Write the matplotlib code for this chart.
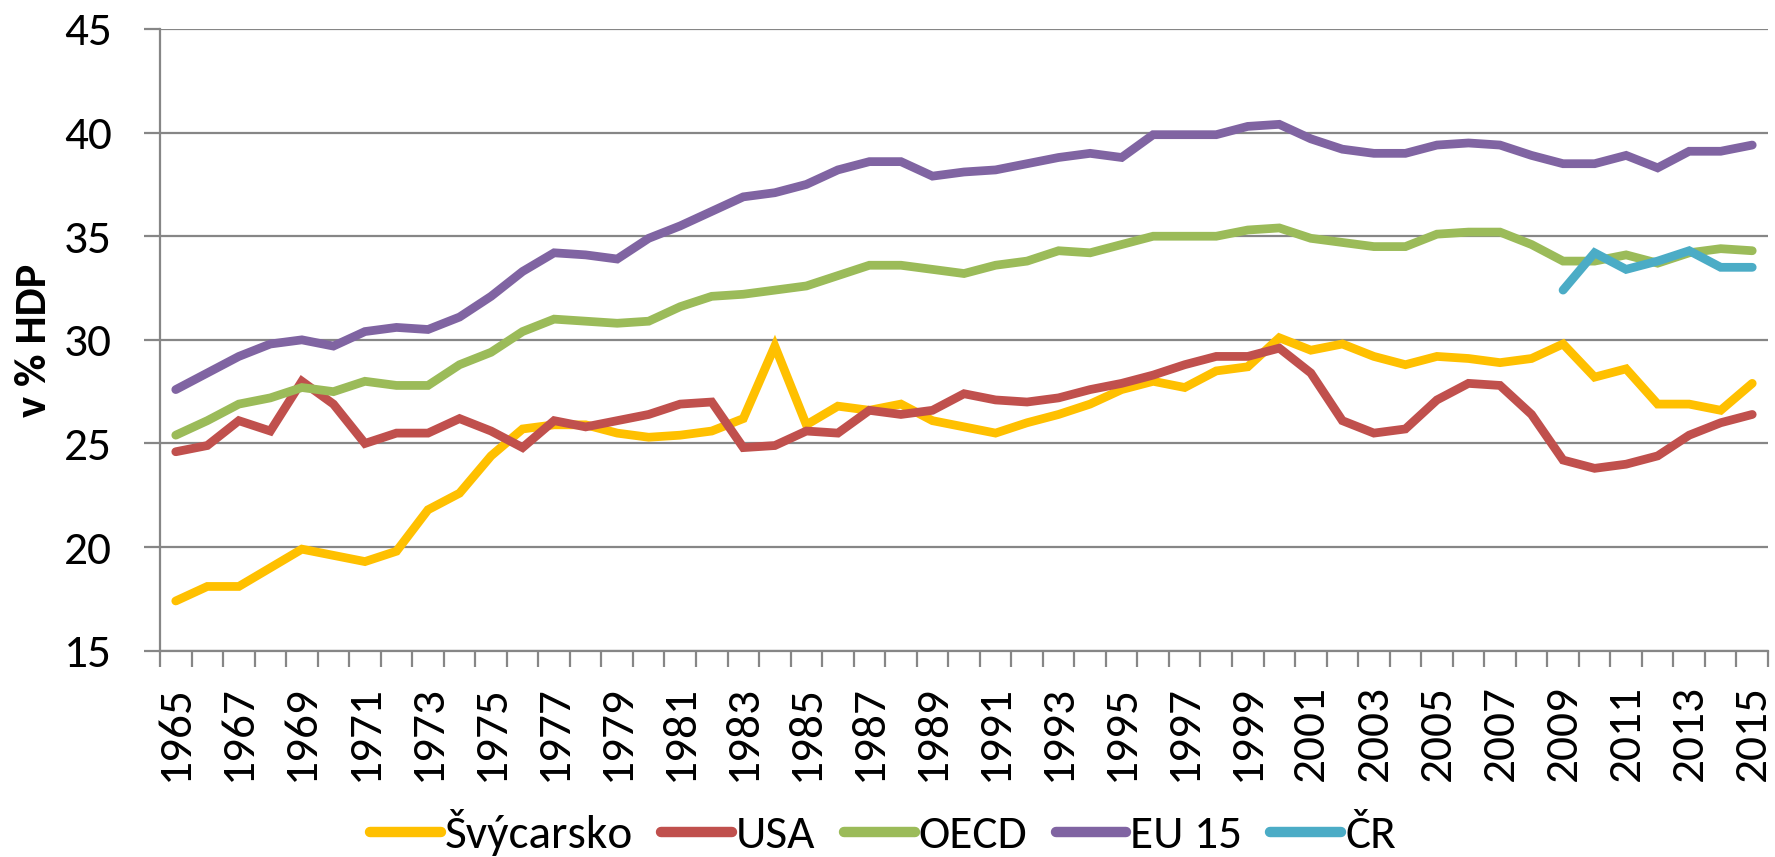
import numpy as np
import matplotlib
matplotlib.use("Agg")
import matplotlib.pyplot as plt
from matplotlib import font_manager

roky = list(range(1965, 2016))

svycarsko = [17.4, 18.1, 18.1, 19.0, 19.9, 19.6, 19.3, 19.8, 21.8, 22.6,
             24.4, 25.7, 25.9, 25.9, 25.5, 25.3, 25.4, 25.6, 26.2, 29.7,
             25.9, 26.8, 26.6, 26.9, 26.1, 25.8, 25.5, 26.0, 26.4, 26.9,
             27.6, 28.0, 27.7, 28.5, 28.7, 30.1, 29.5, 29.8, 29.2, 28.8,
             29.2, 29.1, 28.9, 29.1, 29.8, 28.2, 28.6, 26.9, 26.9, 26.6,
             27.9]
usa = [24.6, 24.9, 26.1, 25.6, 28.0, 26.9, 25.0, 25.5, 25.5, 26.2,
       25.6, 24.8, 26.1, 25.8, 26.1, 26.4, 26.9, 27.0, 24.8, 24.9,
       25.6, 25.5, 26.6, 26.4, 26.6, 27.4, 27.1, 27.0, 27.2, 27.6,
       27.9, 28.3, 28.8, 29.2, 29.2, 29.6, 28.4, 26.1, 25.5, 25.7,
       27.1, 27.9, 27.8, 26.4, 24.2, 23.8, 24.0, 24.4, 25.4, 26.0,
       26.4]
oecd = [25.4, 26.1, 26.9, 27.2, 27.7, 27.5, 28.0, 27.8, 27.8, 28.8,
        29.4, 30.4, 31.0, 30.9, 30.8, 30.9, 31.6, 32.1, 32.2, 32.4,
        32.6, 33.1, 33.6, 33.6, 33.4, 33.2, 33.6, 33.8, 34.3, 34.2,
        34.6, 35.0, 35.0, 35.0, 35.3, 35.4, 34.9, 34.7, 34.5, 34.5,
        35.1, 35.2, 35.2, 34.6, 33.8, 33.8, 34.1, 33.7, 34.2, 34.4,
        34.3]
eu15 = [27.6, 28.4, 29.2, 29.8, 30.0, 29.7, 30.4, 30.6, 30.5, 31.1,
        32.1, 33.3, 34.2, 34.1, 33.9, 34.9, 35.5, 36.2, 36.9, 37.1,
        37.5, 38.2, 38.6, 38.6, 37.9, 38.1, 38.2, 38.5, 38.8, 39.0,
        38.8, 39.9, 39.9, 39.9, 40.3, 40.4, 39.7, 39.2, 39.0, 39.0,
        39.4, 39.5, 39.4, 38.9, 38.5, 38.5, 38.9, 38.3, 39.1, 39.1,
        39.4]
cr_roky = list(range(2009, 2016))
cr = [32.4, 34.2, 33.4, 33.8, 34.3, 33.5, 33.5]

serie = [
    ("Švýcarsko", roky, svycarsko, "#FFC000"),
    ("USA", roky, usa, "#C0504D"),
    ("OECD", roky, oecd, "#9BBB59"),
    ("EU 15", roky, eu15, "#8064A2"),
    ("ČR", cr_roky, cr, "#4BACC6"),
]

# Calibri look-alike if available, otherwise Lato
dostupne = {f.name for f in font_manager.fontManager.ttflist}
if "Carlito" in dostupne:
    pismo, velikost = "Carlito", 34
else:
    pismo, velikost = "Lato", 29
plt.rcParams["font.family"] = [pismo, "DejaVu Sans"]

seda = "#868686"
fig = plt.figure(figsize=(17.75, 8.57), dpi=100)
ax = fig.add_axes([160 / 1775, 1 - 650.7 / 857, 1608 / 1775, 621.7 / 857])

for nazev, xs, ys, barva in serie:
    idx = [roky.index(r) for r in xs]
    ax.plot(idx, ys, color=barva, lw=6.3, solid_capstyle="round",
            solid_joinstyle="miter", label=nazev, zorder=3)

ax.set_ylim(15, 45)
ax.set_xlim(-0.5, len(roky) - 0.5)
ax.set_yticks(range(15, 46, 5))
ax.yaxis.grid(True, color=seda, lw=1.6, zorder=1)
ax.tick_params(axis="y", length=11.5, width=1.6, color=seda,
               labelsize=velikost, pad=23)

# tick marks between categories, labels every second year
ax.set_xticks(np.arange(-0.5, len(roky), 1))
ax.set_xticklabels([])
ax.tick_params(axis="x", which="major", length=11.5, width=1.6, color=seda)
ax.set_xticks(range(0, len(roky), 2), minor=True)
ax.set_xticklabels([str(r) for r in roky[::2]], minor=True, rotation=90,
                   fontsize=velikost)
ax.tick_params(axis="x", which="minor", length=0, pad=25)

for s in ["top", "right"]:
    ax.spines[s].set_visible(False)
for s in ["left", "bottom"]:
    ax.spines[s].set_color(seda)
    ax.spines[s].set_linewidth(1.6)

fig.text(34 / 1775, 1 - 340 / 857, "v % HDP", rotation=90, ha="center",
         va="center", fontsize=velikost - 2, fontweight="bold")

leg = fig.legend(loc="center", bbox_to_anchor=(883 / 1775, 1 - 833 / 857),
                 ncol=5, frameon=False, fontsize=velikost, handlelength=1.5,
                 handletextpad=0.08, columnspacing=0.6, borderpad=0)
for h in leg.get_lines():
    h.set_linewidth(7.5)
    h.set_solid_capstyle("round")

fig.savefig("out.png", dpi=100)
